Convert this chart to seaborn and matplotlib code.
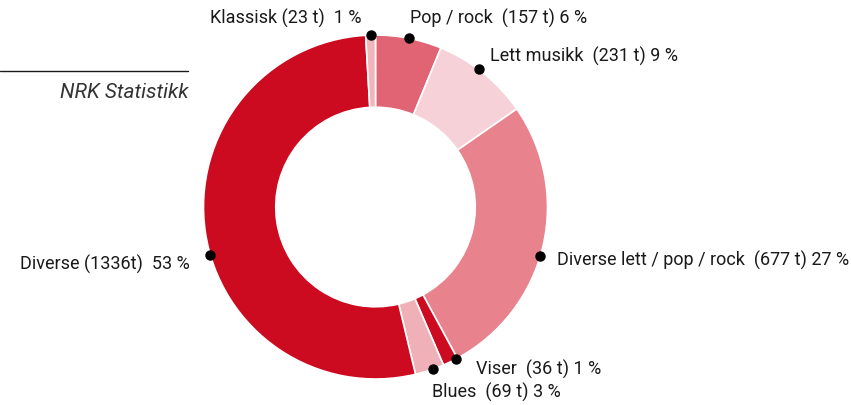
import numpy as np
import matplotlib.pyplot as plt
import seaborn as sns

# data (hours per genre), clockwise from 12 o'clock
genres = ["Pop / rock", "Lett musikk", "Diverse lett / pop / rock", "Viser",
          "Blues", "Diverse", "Klassisk"]
hours = [157, 231, 677, 36, 69, 1336, 23]
hour_text = ["(157 t)", "(231 t)", "(677 t)", "(36 t)", "(69 t)", "(1336t)", "(23 t)"]
percents = [6, 9, 27, 1, 3, 53, 1]

colors = ["#E06473", "#F6D2D8", "#E8828C", "#CC0A20", "#F0B0B8", "#CC0A20", "#F0B4BA"]

sns.set_theme(style="white")
plt.rcParams["font.family"] = ["Roboto", "DejaVu Sans"]

fig = plt.figure(figsize=(8.51, 4.06), dpi=100)
ax = fig.add_axes([0, 0, 1, 1])

cx, cy, r = 375.5, 198, 172
wedges, _ = ax.pie(hours, colors=colors, startangle=90, counterclock=False,
                   center=(cx, cy), radius=r, frame=True,
                   wedgeprops=dict(width=r * 0.42, edgecolor="white", linewidth=1.2))
ax.set_xlim(0, 851)
ax.set_ylim(0, 406)
ax.set_aspect("equal")
ax.axis("off")

# label layout: dot angle nudge (deg), text anchor, alignment
dot_nudge = [0, -2, 3, -2, -1, -8, 0]
text_pos = [(410, 388), (490, 350), (557, 146), (476, 37), (432, 14), (190, 142), (361, 388)]
text_ha = ["left", "left", "left", "left", "left", "right", "right"]

total = sum(hours)
start = 0.0
for i, h in enumerate(hours):
    span = h / total * 360
    mid = start + span / 2 + dot_nudge[i]
    start += span
    a = np.deg2rad(90 - mid)
    ax.plot(cx + r * np.cos(a), cy + r * np.sin(a), "o", color="black", ms=6.5, zorder=5)
    if genres[i] in ("Diverse", "Klassisk"):
        label = f"{genres[i]} {hour_text[i]}  {percents[i]} %"
    else:
        label = f"{genres[i]}  {hour_text[i]} {percents[i]} %"
    ax.text(text_pos[i][0], text_pos[i][1], label, ha=text_ha[i], va="center",
            fontsize=13, color="#1a1a1a")

ax.plot([0, 188], [334, 334], color="#1a1a1a", lw=1)
ax.text(188, 314, "NRK Statistikk", ha="right", va="center", fontsize=15,
        style="italic", color="#333333")

fig.savefig("out.png", dpi=100)
